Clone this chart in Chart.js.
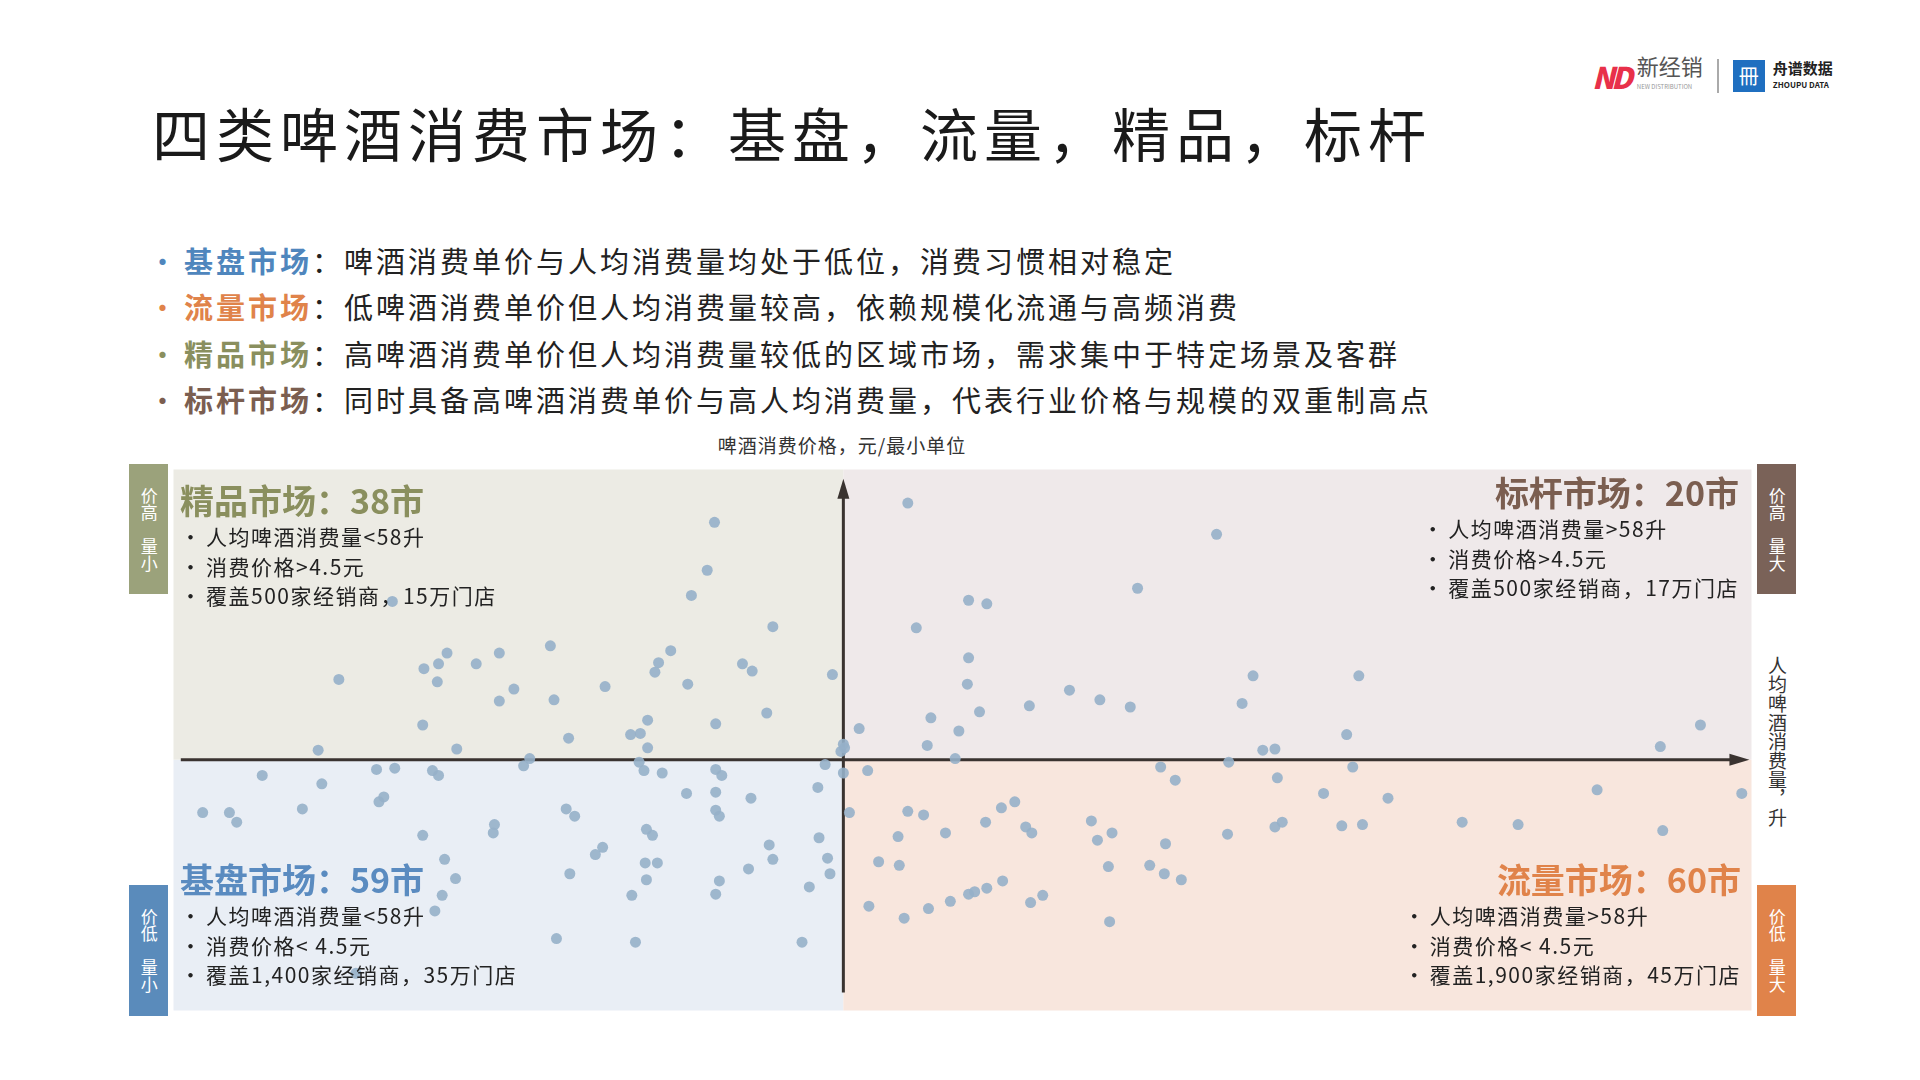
<!DOCTYPE html>
<html>
<head>
<meta charset="utf-8">
<script src="https://cdn.jsdelivr.net/npm/chart.js@4"></script>
<style>
  body { margin: 0; width: 1920px; height: 1080px; background: #fff; position: relative; overflow: hidden;
         font-family: "Noto Sans CJK SC", sans-serif; color: #222; }
  .abs { position: absolute; white-space: nowrap; }
  .title { left: 152px; top: 96px; font-size: 58px; letter-spacing: 6px; color: #1a1a1a; line-height: 72px; }
  .intro { left: 148px; font-size: 29px; letter-spacing: 3px; color: #222; line-height: 42px; }
  .intro b { font-weight: 700; }
  .dot { display: inline-block; width: 36px; }
  .tag { width: 39px; color: #fff; font-size: 17px; writing-mode: vertical-rl; text-orientation: upright;
         display: flex; align-items: center; justify-content: center; line-height: 1.2; }
  .qt { font-size: 34px; font-weight: 700; line-height: 44px; }
  .ql { font-size: 21px; letter-spacing: 1.5px; line-height: 29.5px; color: #222; }
  .ql span { display: inline-block; width: 26px; }
  #wrap { position: absolute; left: 168px; top: 464px; width: 1589px; height: 552px; }
</style>
</head>
<body>
<div class="abs title">四类啤酒消费市场：基盘，流量，精品，标杆</div>

<div class="abs" style="left:1592px;top:54px;display:flex;align-items:center;gap:8px;">
  <div style="font-size:30px;font-weight:900;font-style:italic;color:#e8304a;letter-spacing:-4px;">ND</div>
  <div style="font-size:22px;color:#555;line-height:22px;">新经销<div style="font-size:6px;color:#999;">NEW DISTRIBUTION</div></div>
  <div style="width:2px;height:34px;background:#aaa;margin:0 6px;"></div>
  <div style="width:32px;height:32px;background:#1f6fc0;color:#fff;font-size:20px;text-align:center;line-height:32px;">冊</div>
  <div style="font-size:15px;font-weight:700;color:#222;line-height:17px;">舟谱数据<div style="font-size:8px;">ZHOUPU DATA</div></div>
</div>

<div class="abs intro" style="top:239px;"><span class="dot" style="color:#4f86bd">•</span><b style="color:#4f86bd">基盘市场</b>：啤酒消费单价与人均消费量均处于低位，消费习惯相对稳定</div>
<div class="abs intro" style="top:285px;"><span class="dot" style="color:#e0834a">•</span><b style="color:#e0834a">流量市场</b>：低啤酒消费单价但人均消费量较高，依赖规模化流通与高频消费</div>
<div class="abs intro" style="top:332px;"><span class="dot" style="color:#8a8f5e">•</span><b style="color:#8a8f5e">精品市场</b>：高啤酒消费单价但人均消费量较低的区域市场，需求集中于特定场景及客群</div>
<div class="abs intro" style="top:378px;"><span class="dot" style="color:#7b5e50">•</span><b style="color:#7b5e50">标杆市场</b>：同时具备高啤酒消费单价与高人均消费量，代表行业价格与规模的双重制高点</div>

<div class="abs" style="left:842px;top:431px;transform:translateX(-50%);font-size:19px;letter-spacing:1px;color:#333;">啤酒消费价格，元/最小单位</div>

<div id="wrap"><canvas id="c"></canvas></div>

<div class="abs tag" style="left:129px;top:464px;height:130px;background:#9ba27b;">价高 量小</div>
<div class="abs tag" style="left:129px;top:885px;height:131px;background:#5a8bbb;">价低 量小</div>
<div class="abs tag" style="left:1757px;top:464px;height:130px;background:#7a6258;">价高 量大</div>
<div class="abs tag" style="left:1757px;top:885px;height:131px;background:#e0834a;">价低 量大</div>
<div class="abs" style="left:1764px;top:656px;writing-mode:vertical-rl;text-orientation:upright;font-size:19px;color:#333;">人均啤酒消费量，升</div>

<div class="abs" style="left:180px;top:478px;">
  <div class="qt" style="color:#8a8f5e">精品市场：38市</div>
  <div class="ql"><span>•</span>人均啤酒消费量&lt;58升</div>
  <div class="ql"><span>•</span>消费价格&gt;4.5元</div>
  <div class="ql"><span>•</span>覆盖500家经销商，15万门店</div>
</div>
<div class="abs" style="right:181px;top:470px;">
  <div class="qt" style="color:#7b5e50;text-align:right">标杆市场：20市</div>
  <div class="ql"><span>•</span>人均啤酒消费量&gt;58升</div>
  <div class="ql"><span>•</span>消费价格&gt;4.5元</div>
  <div class="ql"><span>•</span>覆盖500家经销商，17万门店</div>
</div>
<div class="abs" style="left:180px;top:857px;">
  <div class="qt" style="color:#5a8bc0">基盘市场：59市</div>
  <div class="ql"><span>•</span>人均啤酒消费量&lt;58升</div>
  <div class="ql"><span>•</span>消费价格&lt; 4.5元</div>
  <div class="ql"><span>•</span>覆盖1,400家经销商，35万门店</div>
</div>
<div class="abs" style="right:179px;top:857px;">
  <div class="qt" style="color:#e0834a;text-align:right">流量市场：60市</div>
  <div class="ql"><span>•</span>人均啤酒消费量&gt;58升</div>
  <div class="ql"><span>•</span>消费价格&lt; 4.5元</div>
  <div class="ql"><span>•</span>覆盖1,900家经销商，45万门店</div>
</div>

<script>
// thresholds
const volumeCut = 58;   // 升/人
const priceCut = 4.5;   // 元

// [人均消费量, 消费价格] per city
const premiumCities = [[47.4,8.46],[46.8,7.66],[45.5,7.24],[52.2,6.72],[20.9,7.14],[16.5,5.84],[23.5,6.02],[24.7,6.1],
  [25.4,6.28],[24.6,5.8],[27.8,6.1],[29.7,6.28],[33.9,6.4],[30.9,5.68],[29.7,5.48],[34.2,5.5],[38.4,5.72],[42.5,5.96],
  [42.8,6.12],[43.8,6.32],[45.2,5.76],[49.7,6.1],[50.5,5.98],[57.1,5.92],[51.7,5.28],[47.5,5.1],[41.9,5.16],[41.3,4.94],
  [40.5,4.92],[41.9,4.7],[35.4,4.86],[23.4,5.08],[26.2,4.68],[14.8,4.66],[32.2,4.52],[57.8,4.64],[58.0,4.76]];
const baseCities = [[31.7,4.4],[10.2,4.24],[15.1,4.1],[19.6,4.34],[21.1,4.36],[24.2,4.32],[24.7,4.24],[20.2,3.88],[19.8,3.8],
  [5.3,3.62],[7.5,3.62],[8.1,3.46],[13.5,3.68],[29.3,3.42],[29.2,3.28],[23.4,3.24],[25.2,2.84],[26.1,2.52],[25.0,2.24],
  [24.4,1.98],[35.2,3.68],[35.9,3.56],[34.4,1.52],[35.5,2.6],[38.2,3.04],[37.6,2.92],[41.2,4.46],[41.6,4.32],[43.1,4.28],
  [41.8,3.34],[42.3,3.24],[45.1,3.94],[47.5,4.34],[48.0,4.24],[47.5,3.96],[47.5,3.66],[47.8,3.56],[50.4,3.86],[51.9,3.08],
  [52.2,2.84],[50.2,2.68],[47.8,2.48],[47.5,2.26],[41.7,2.78],[42.7,2.78],[41.8,2.5],[40.6,2.24],[40.9,1.46],[54.6,1.46],
  [55.2,2.38],[56.0,3.2],[55.9,4.04],[56.5,4.42],[56.7,2.86],[56.9,2.6],[17.9,0.94]];
const benchmarkCities = [[63.3,8.78],[88.7,8.26],[82.2,7.36],[68.3,7.16],[69.8,7.1],[64.0,6.7],[68.3,6.2],[68.2,5.76],
  [65.2,5.2],[69.2,5.3],[67.5,4.98],[64.9,4.74],[59.3,5.02],[73.3,5.4],[76.6,5.66],[79.1,5.5],[81.6,5.38],[91.7,5.9],
  [90.8,5.44],[100.4,5.9],[99.4,4.92],[92.5,4.66],[93.5,4.68],[125.2,4.72],[128.5,5.08],[58.1,4.7]];
const trafficCities = [[60.0,4.32],[67.2,4.52],[58.5,3.62],[63.3,3.64],[64.6,3.58],[66.4,3.28],[62.5,3.22],[62.6,2.74],
  [60.9,2.8],[60.1,2.06],[63.0,1.86],[65.0,2.02],[66.8,2.14],[68.3,2.26],[68.8,2.3],[69.8,2.36],[71.1,2.48],[73.4,2.12],
  [74.4,2.24],[69.7,3.46],[71.0,3.7],[72.1,3.8],[73.0,3.38],[73.5,3.28],[78.4,3.48],[78.9,3.16],[80.1,3.28],[79.8,2.72],
  [79.9,1.8],[83.2,2.74],[84.4,2.6],[85.8,2.5],[84.5,3.1],[84.1,4.38],[85.3,4.16],[89.6,3.26],[93.7,4.2],[93.5,3.38],
  [94.1,3.46],[97.5,3.94],[99.0,3.4],[100.7,3.42],[99.9,4.38],[102.8,3.86],[108.9,3.46],[113.5,3.42],[120.0,4.0],
  [125.4,3.32],[131.9,3.94],[58.0,4.28],[89.7,4.46]];

const toPts = arr => arr.map(p => ({ x: p[0], y: p[1] }));

const quadrantBg = {
  id: 'quadrantBg',
  beforeDatasetsDraw(chart) {
    const { ctx, chartArea: a, scales: { x, y } } = chart;
    const cx = x.getPixelForValue(volumeCut), cy = y.getPixelForValue(priceCut);
    ctx.save();
    ctx.fillStyle = '#ecebe4'; ctx.fillRect(a.left, a.top, cx - a.left, cy - a.top);
    ctx.fillStyle = '#efe9ea'; ctx.fillRect(cx, a.top, a.right - cx, cy - a.top);
    ctx.fillStyle = '#e9eef5'; ctx.fillRect(a.left, cy, cx - a.left, a.bottom - cy);
    ctx.fillStyle = '#f8e6dd'; ctx.fillRect(cx, cy, a.right - cx, a.bottom - cy);
    // axes with arrows
    const x0 = x.getPixelForValue(3.5), x1 = x.getPixelForValue(132.2);
    const y0 = y.getPixelForValue(0.62), y1 = y.getPixelForValue(9.12);
    ctx.strokeStyle = '#3a3330'; ctx.fillStyle = '#3a3330'; ctx.lineWidth = 3;
    ctx.beginPath(); ctx.moveTo(x0, cy); ctx.lineTo(x1 - 10, cy); ctx.moveTo(cx, y0); ctx.lineTo(cx, y1 + 10); ctx.stroke();
    ctx.beginPath(); ctx.moveTo(x1 + 4, cy); ctx.lineTo(x1 - 16, cy - 6); ctx.lineTo(x1 - 16, cy + 6); ctx.fill();
    ctx.beginPath(); ctx.moveTo(cx, y1 - 4); ctx.lineTo(cx - 6, y1 + 16); ctx.lineTo(cx + 6, y1 + 16); ctx.fill();
    ctx.restore();
  }
};

const dotStyle = { backgroundColor: 'rgba(150,176,201,0.9)', borderWidth: 0, pointRadius: 5.5 };

new Chart(document.getElementById('c'), {
  type: 'scatter',
  data: {
    datasets: [
      { label: '精品', data: toPts(premiumCities), ...dotStyle },
      { label: '基盘', data: toPts(baseCities), ...dotStyle },
      { label: '标杆', data: toPts(benchmarkCities), ...dotStyle },
      { label: '流量', data: toPts(trafficCities), ...dotStyle }
    ]
  },
  options: {
    responsive: true,
    maintainAspectRatio: false,
    animation: false,
    layout: { padding: 0 },
    plugins: { legend: { display: false }, tooltip: { enabled: false } },
    scales: {
      x: { type: 'linear', min: 2.9, max: 132.7, display: false },
      y: { type: 'linear', min: 0.32, max: 9.34, display: false }
    }
  },
  plugins: [quadrantBg]
});
</script>
</body>
</html>
